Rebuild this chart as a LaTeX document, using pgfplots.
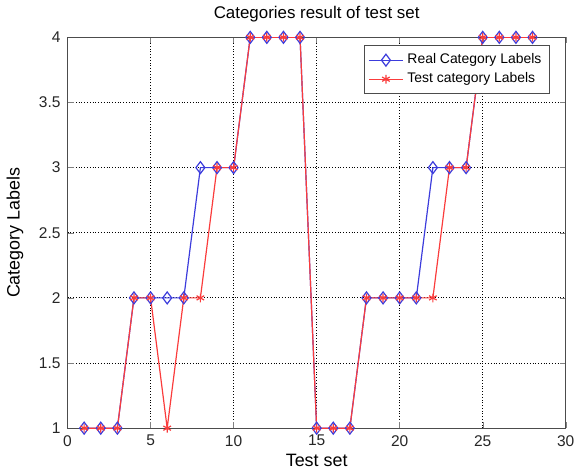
\documentclass[border=0pt]{standalone}
\usepackage{pgfplots}
\pgfplotsset{compat=1.18}
\usepackage{fontspec}
\setmainfont{Liberation Sans}
\definecolor{mred}{RGB}{250,60,60}
\definecolor{mblue}{RGB}{60,60,220}
\begin{document}
\begin{tikzpicture}
\begin{axis}[
  scale only axis,
  width=250.5pt, height=196.5pt,
  xmin=0, xmax=30, ymin=1, ymax=4,
  xtick={0,5,...,30}, ytick={1,1.5,...,4},
  yticklabels={1,1.5,2,2.5,3,3.5,4},
  /pgf/number format/assume math mode=true,
  tick label style={font=\fontsize{7.8}{9}\selectfont, text=black!85},
  tick align=inside,
  major tick length=3pt,
  grid=major,
  major grid style={black, densely dotted, line width=0.5pt},
  axis line style={black!70, line width=0.6pt},
  title={Categories result of test set},
  title style={font=\fontsize{8.5}{10}\selectfont, yshift=-2pt},
  xlabel={Test set}, ylabel={Category Labels},
  label style={font=\fontsize{9}{10}\selectfont},
  xlabel style={yshift=3pt},
  ylabel style={yshift=1pt},
  legend style={at={(0.968,0.98)}, anchor=north east, font=\fontsize{7}{8}\selectfont,
    draw=black!70, line width=0.5pt, row sep=-1pt, inner sep=2pt},
  legend cell align=left,
]
\addplot[mblue, line width=0.6pt, mark=diamond, mark size=3pt, mark options={solid, mblue, fill=white}] coordinates {
(1,1)(2,1)(3,1)(4,2)(5,2)(6,2)(7,2)(8,3)(9,3)(10,3)(11,4)(12,4)(13,4)(14,4)
(15,1)(16,1)(17,1)(18,2)(19,2)(20,2)(21,2)(22,3)(23,3)(24,3)(25,4)(26,4)(27,4)(28,4)};
\addlegendentry{Real Category Labels}
\addplot[mred, line width=0.6pt, mark=asterisk, mark size=2.2pt, mark options={solid, mred}] coordinates {
(1,1)(2,1)(3,1)(4,2)(5,2)(6,1)(7,2)(8,2)(9,3)(10,3)(11,4)(12,4)(13,4)(14,4)
(15,1)(16,1)(17,1)(18,2)(19,2)(20,2)(21,2)(22,2)(23,3)(24,3)(25,4)(26,4)(27,4)(28,4)};
\addlegendentry{Test category Labels}
\end{axis}
\end{tikzpicture}
\end{document}
